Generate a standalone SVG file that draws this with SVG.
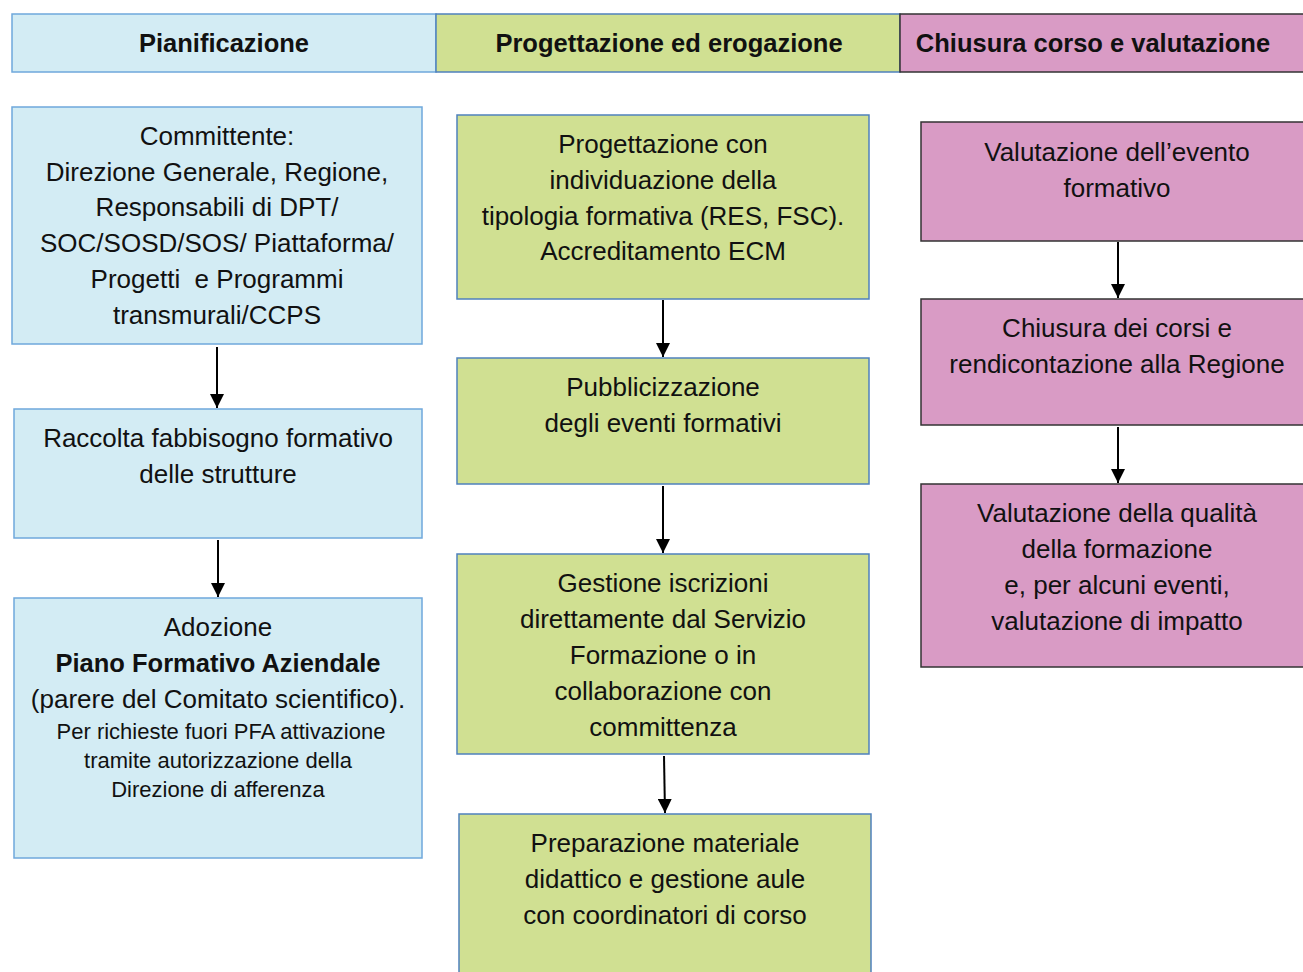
<svg xmlns="http://www.w3.org/2000/svg" width="1303" height="972" viewBox="0 0 1303 972">
<style>
.t{font-family:"Liberation Sans",Arial,sans-serif;font-size:26px;fill:#111;text-anchor:middle}
.s{font-size:22px}
.b{font-weight:bold;font-size:25.5px}
.h{font-family:"Liberation Sans",Arial,sans-serif;font-size:25.5px;font-weight:bold;fill:#111;text-anchor:middle}
.blue{fill:#d3ecf4;stroke:#6fa8dc;stroke-width:1.5}
.green{fill:#d0e092;stroke:#4f81bd;stroke-width:1.5}
.pink{fill:#d99bc5;stroke:#333;stroke-width:1.5}
.c{stroke:#000;stroke-width:2;fill:none;marker-end:url(#ah)}
</style>
<defs>
<marker id="ah" viewBox="0 0 14 14" refX="14" refY="7" markerWidth="14" markerHeight="14" markerUnits="userSpaceOnUse" orient="auto">
<path d="M0,0 L14,7 L0,14 z" fill="#000"/>
</marker>
</defs>
<rect width="1303" height="972" fill="#fff"/>

<g id="header">
<rect x="12" y="14" width="424" height="58" class="blue"/>
<rect x="436" y="14" width="464" height="58" class="green"/>
<rect x="900" y="14" width="410" height="58" class="pink"/>
<text class="h" x="224" y="52">Pianificazione</text>
<text class="h" x="669" y="52">Progettazione ed erogazione</text>
<text class="h" x="1093" y="52">Chiusura corso e valutazione</text>
</g>

<g id="connectors">
<line x1="217" y1="347" x2="217" y2="408" class="c"/>
<line x1="218" y1="540" x2="218" y2="597" class="c"/>
<line x1="663" y1="300" x2="663" y2="357" class="c"/>
<line x1="663" y1="486" x2="663" y2="553" class="c"/>
<line x1="664" y1="756" x2="665" y2="813" class="c"/>
<line x1="1118" y1="242" x2="1118" y2="298" class="c"/>
<line x1="1118" y1="427" x2="1118" y2="483" class="c"/>
</g>

<g id="committente">
<rect x="12" y="107" width="410" height="237" class="blue"/>
<text class="t" x="217" y="145">Committente:</text>
<text class="t" x="217" y="181">Direzione Generale, Regione,</text>
<text class="t" x="217" y="216">Responsabili di DPT/</text>
<text class="t" x="217" y="252">SOC/SOSD/SOS/ Piattaforma/</text>
<text class="t" x="217" y="288" xml:space="preserve">Progetti  e Programmi</text>
<text class="t" x="217" y="324">transmurali/CCPS</text>
</g>

<g id="raccolta">
<rect x="14" y="409" width="408" height="129" class="blue"/>
<text class="t" x="218" y="447">Raccolta fabbisogno formativo</text>
<text class="t" x="218" y="483">delle strutture</text>
</g>

<g id="adozione">
<rect x="14" y="598" width="408" height="260" class="blue"/>
<text class="t" x="218" y="636">Adozione</text>
<text class="t b" x="218" y="672">Piano Formativo Aziendale</text>
<text class="t" x="218" y="708">(parere del Comitato scientifico).</text>
<text class="t s" x="221" y="739">Per richieste fuori PFA attivazione</text>
<text class="t s" x="218" y="768">tramite autorizzazione della</text>
<text class="t s" x="218" y="797">Direzione di afferenza</text>
</g>

<g id="progettazione">
<rect x="457" y="115" width="412" height="184" class="green"/>
<text class="t" x="663" y="153">Progettazione con</text>
<text class="t" x="663" y="189">individuazione della</text>
<text class="t" x="663" y="225">tipologia formativa (RES, FSC).</text>
<text class="t" x="663" y="260">Accreditamento ECM</text>
</g>

<g id="pubblicizzazione">
<rect x="457" y="358" width="412" height="126" class="green"/>
<text class="t" x="663" y="396">Pubblicizzazione</text>
<text class="t" x="663" y="432">degli eventi formativi</text>
</g>

<g id="gestione">
<rect x="457" y="554" width="412" height="200" class="green"/>
<text class="t" x="663" y="592">Gestione iscrizioni</text>
<text class="t" x="663" y="628">direttamente dal Servizio</text>
<text class="t" x="663" y="664">Formazione o in</text>
<text class="t" x="663" y="700">collaborazione con</text>
<text class="t" x="663" y="736">committenza</text>
</g>

<g id="preparazione">
<rect x="459" y="814" width="412" height="170" class="green"/>
<text class="t" x="665" y="852">Preparazione materiale</text>
<text class="t" x="665" y="888">didattico e gestione aule</text>
<text class="t" x="665" y="924">con coordinatori di corso</text>
</g>

<g id="valutazione-evento">
<rect x="921" y="122" width="392" height="119" class="pink"/>
<text class="t" x="1117" y="161">Valutazione dell’evento</text>
<text class="t" x="1117" y="197">formativo</text>
</g>

<g id="chiusura">
<rect x="921" y="299" width="392" height="126" class="pink"/>
<text class="t" x="1117" y="337">Chiusura dei corsi e</text>
<text class="t" x="1117" y="373">rendicontazione alla Regione</text>
</g>

<g id="valutazione-qualita">
<rect x="921" y="484" width="392" height="183" class="pink"/>
<text class="t" x="1117" y="522">Valutazione della qualità</text>
<text class="t" x="1117" y="558">della formazione</text>
<text class="t" x="1117" y="594">e, per alcuni eventi,</text>
<text class="t" x="1117" y="630">valutazione di impatto</text>
</g>
</svg>
